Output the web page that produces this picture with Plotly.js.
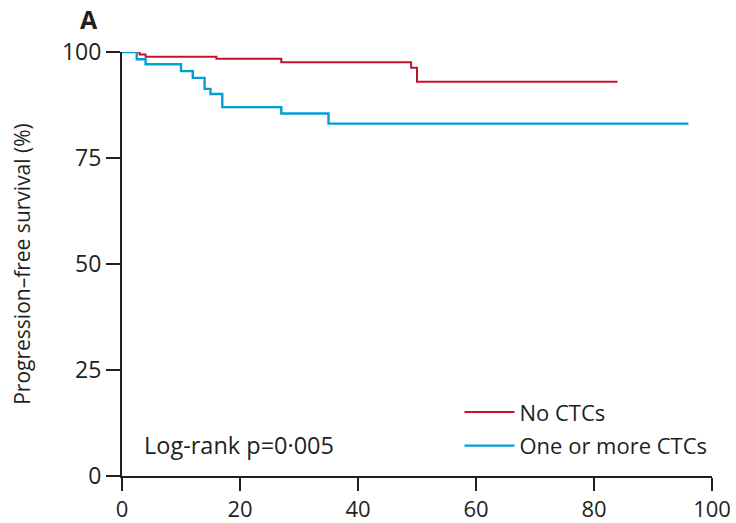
<!DOCTYPE html>
<html>
<head>
<meta charset="utf-8">
<script src="https://cdn.plot.ly/plotly-3.0.1.min.js"></script>
<style>html,body{margin:0;padding:0;background:#fff;}#chart{width:736px;height:523px;}</style>
</head>
<body>
<div id="chart"></div>
<script>
// Kaplan-Meier step data (months vs % progression-free survival)
const noCtcTime = [0, 3, 4, 16, 27, 49, 50, 84];
const noCtcSurv = [100, 99.4, 98.9, 98.4, 97.6, 96.3, 93.0, 93.0];
const ctcTime = [0, 2.5, 4, 10, 12, 14, 15, 17, 27, 35, 96];
const ctcSurv = [100, 98.3, 97.1, 95.5, 93.9, 91.3, 90.1, 87.0, 85.5, 83.1, 83.1];
const seriesNames = ["No CTCs", "One or more CTCs"];
const xTicks = [0, 20, 40, 60, 80, 100];
const yTicks = [0, 25, 50, 75, 100];

const FONT = "'Open Sans', Lato, sans-serif";
const INK = "#231f20";

const traces = [
  {x: noCtcTime, y: noCtcSurv, name: seriesNames[0], type: "scatter", mode: "lines",
   line: {shape: "hv", color: "#c8102e", width: 2}, legendgroup: "a"},
  {x: ctcTime, y: ctcSurv, name: seriesNames[1], type: "scatter", mode: "lines",
   line: {shape: "hv", color: "#00a0d6", width: 2.4}, legendgroup: "b"}
];

const layout = {
  width: 736, height: 523,
  margin: {l: 122, r: 24, t: 52, b: 47},
  paper_bgcolor: "#fff", plot_bgcolor: "#fff",
  font: {family: FONT, size: 22, color: INK},
  showlegend: true,
  legend: {x: 0.572, y: 0.2, xanchor: "left", yanchor: "top", bgcolor: "rgba(0,0,0,0)", itemwidth: 50,
           font: {family: FONT, size: 22, color: INK}, traceorder: "grouped", tracegroupgap: 2},
  xaxis: {range: [0, 100], tickvals: xTicks, ticktext: xTicks.map(String), showgrid: false, zeroline: false,
          showline: true, linecolor: INK, linewidth: 2, ticks: "outside", ticklen: 13, tickwidth: 2, tickcolor: INK,
          tickfont: {family: FONT, size: 22, color: INK}, fixedrange: true},
  yaxis: {range: [0, 100], tickvals: yTicks, ticktext: yTicks.map(String), showgrid: false, zeroline: false,
          showline: true, linecolor: INK, linewidth: 2, ticks: "outside", ticklen: 14, tickwidth: 2, tickcolor: INK,
          tickfont: {family: FONT, size: 23, color: INK},
          title: {text: "Progression–free survival (%)", font: {family: FONT, size: 21, color: INK}, standoff: 26},
          fixedrange: true},
  annotations: [
    {text: "<b>A</b>", xref: "paper", yref: "paper", x: -0.037, y: 1.078, xanchor: "right", yanchor: "middle",
     showarrow: false, font: {family: FONT, size: 25, color: INK}},
    {text: "Log-rank p=0·005", xref: "paper", yref: "paper", x: 0.034, y: 0.073, xanchor: "left", yanchor: "middle",
     showarrow: false, font: {family: FONT, size: 23.5, color: INK}}
  ]
};

Plotly.newPlot("chart", traces, layout, {displayModeBar: false, staticPlot: true});
</script>
</body>
</html>
